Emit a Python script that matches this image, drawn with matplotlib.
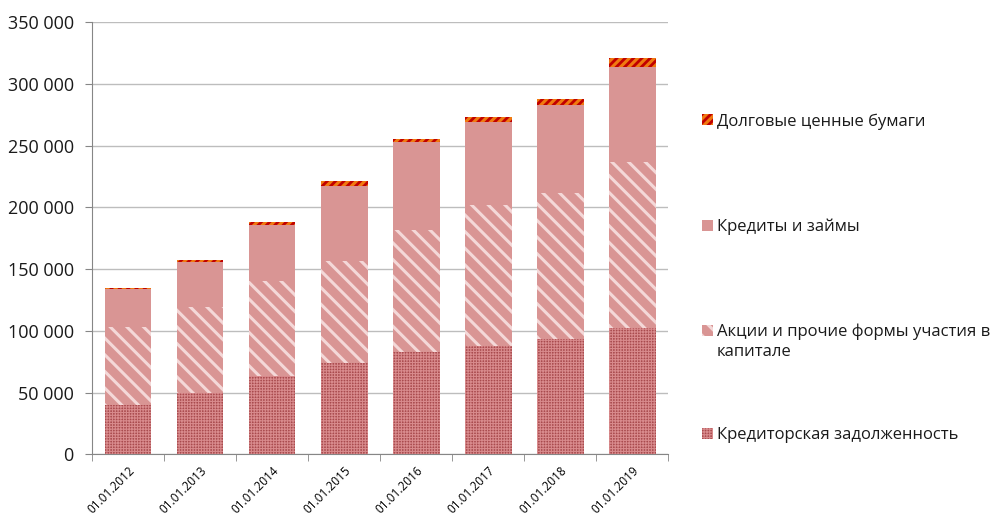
import numpy as np
import matplotlib as mpl
import matplotlib.pyplot as plt
from matplotlib.patches import Rectangle
from matplotlib.ticker import FuncFormatter, FixedLocator

plt.rcParams['font.family'] = ['Open Sans', 'DejaVu Sans']

dates = ["01.01.2012", "01.01.2013", "01.01.2014", "01.01.2015",
         "01.01.2016", "01.01.2017", "01.01.2018", "01.01.2019"]
payables = [40000, 50000, 63000, 73500, 83000, 87500, 93000, 102500]
equity = [63000, 69000, 77000, 83000, 99000, 114000, 118500, 134000]
loans = [30500, 36500, 45500, 61000, 71000, 68000, 71500, 77500]
bonds = [1500, 1500, 2500, 3500, 2500, 4000, 5000, 7000]

labels = ["Кредиторская задолженность",
          "Акции и прочие формы участия в\nкапитале",
          "Кредиты и займы",
          "Долговые ценные бумаги"]

W, H = 999, 515
fig = plt.figure(figsize=(W / 100, H / 100), dpi=100)
ax = fig.add_axes([0.092, 0.118, 0.577, 0.839])

x = np.arange(len(dates))
w = 0.65
styles = [
    dict(color="#A94B4E", edgecolor="#D88A8C", hatch="++++++", hlw=0.8),
    dict(color="#D99594", edgecolor="#F4D8D8", hatch="\\\\", hlw=2.2),
    dict(color="#D99594", edgecolor="#D99594", hatch=None, hlw=1.0),
    dict(color="#F07A10", edgecolor="#C00000", hatch="////", hlw=2.0),
]
# legend rows: y of first text line (pixels from top)
legend_y = [433, 330, 225, 120]

series = [payables, equity, loans, bonds]
bottom = np.zeros(len(dates))
for vals, st, lab, ly in zip(series, styles, labels, legend_y):
    with mpl.rc_context({'hatch.linewidth': st["hlw"]}):
        bars = ax.bar(x, vals, w, bottom=bottom, color=st["color"],
                      edgecolor=st["edgecolor"], hatch=st["hatch"], lw=0, zorder=3)
        h = Rectangle((702 / W, 1 - (ly + 5.5) / H), 11 / W, 11 / H,
                      transform=fig.transFigure, facecolor=st["color"],
                      edgecolor=st["edgecolor"], hatch=st["hatch"], lw=0)
    for b in list(bars) + [h]:
        if hasattr(b, "set_hatch_linewidth"):
            b.set_hatch_linewidth(st["hlw"])
    fig.add_artist(h)
    fig.text(717 / W, 1 - (ly - 6) / H, lab, fontsize=12, color="#1a1a1a",
             va="top", ha="left", linespacing=1.3)
    bottom += np.array(vals)

ax.set_xlim(-0.5, len(dates) - 0.5)
ax.set_ylim(0, 350000)
ax.set_yticks(np.arange(0, 350001, 50000))
ax.yaxis.set_major_formatter(FuncFormatter(lambda v, p: f"{int(v):,}".replace(",", " ")))
ax.tick_params(axis="y", labelsize=13, length=5, pad=8, color="#868686", labelcolor="#1a1a1a")
ax.set_xticks(x)
ax.set_xticklabels(dates, rotation=45, ha="right", rotation_mode="anchor", fontsize=8.5)
ax.tick_params(axis="x", length=0, pad=7)
ax.xaxis.set_minor_locator(FixedLocator(np.arange(-0.5, len(dates), 1)))
ax.tick_params(axis="x", which="minor", length=5, color="#868686")

ax.grid(axis="y", color="#BDBDBD", lw=1, zorder=0)
for s in ["top", "right"]:
    ax.spines[s].set_visible(False)
for s in ["left", "bottom"]:
    ax.spines[s].set_color("#868686")

plt.savefig("out.png", dpi=100)
